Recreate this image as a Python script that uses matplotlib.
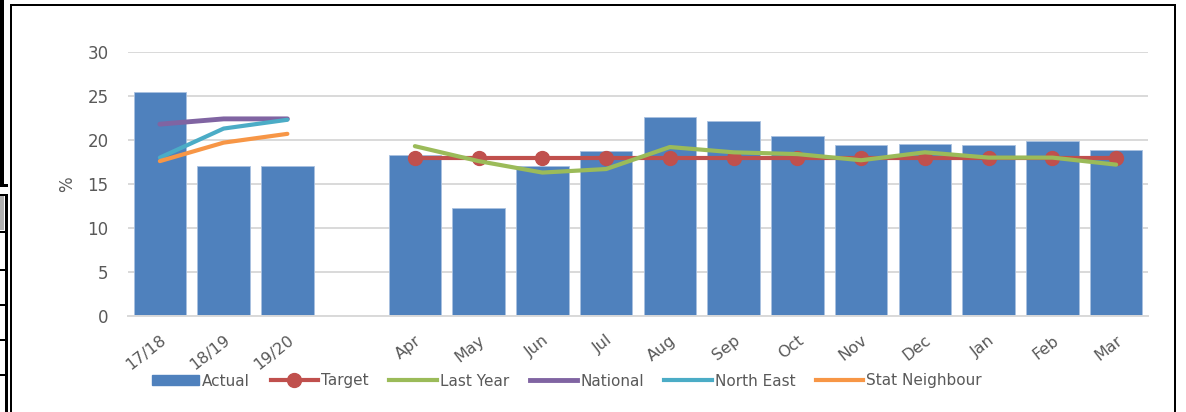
import numpy as np
import matplotlib
matplotlib.use("Agg")
import matplotlib.pyplot as plt
from matplotlib.patches import Rectangle, Patch
from matplotlib.lines import Line2D

# categorias e valores
categories = ["17/18", "18/19", "19/20", "", "Apr", "May", "Jun", "Jul", "Aug",
              "Sep", "Oct", "Nov", "Dec", "Jan", "Feb", "Mar"]
actual = [25.5, 17.0, 17.1, np.nan, 18.3, 12.3, 17.0, 18.8, 22.6, 22.2,
          20.4, 19.4, 19.6, 19.4, 19.9, 18.9]
target = [np.nan, np.nan, np.nan, np.nan, 18, 18, 18, 18, 18, 18, 18, 18, 18, 18, 18, 18]
last_year = [np.nan, np.nan, np.nan, np.nan, 19.3, 17.6, 16.3, 16.7, 19.2, 18.6,
             18.4, 17.7, 18.6, 18.0, 18.0, 17.2]
national = [21.8, 22.4, 22.4] + [np.nan] * 13
north_east = [18.0, 21.3, 22.3] + [np.nan] * 13
stat_neighbour = [17.6, 19.7, 20.7] + [np.nan] * 13

c_bar = "#4F81BD"
c_target = "#C0504D"
c_ly = "#9BBB59"
c_nat = "#8064A2"
c_ne = "#4BACC6"
c_sn = "#F79646"
grey = "#595959"

plt.rcParams["font.family"] = "DejaVu Sans"

fig = plt.figure(figsize=(11.86, 4.12), dpi=100)
ax = fig.add_axes([128 / 1186, 1 - 316 / 412, (1148 - 128) / 1186, (316 - 52) / 412])

x = np.arange(len(categories))
ax.bar(x, actual, width=0.82, color=c_bar, edgecolor="#a9c1e0", linewidth=0.6, zorder=2)
ax.plot(x, target, color=c_target, lw=3, marker="o", markersize=10, zorder=4)
ax.plot(x, last_year, color=c_ly, lw=3, zorder=5, solid_capstyle="round")
ax.plot(x, national, color=c_nat, lw=3.5, zorder=3, solid_capstyle="round")
ax.plot(x, north_east, color=c_ne, lw=3, zorder=4, solid_capstyle="round")
ax.plot(x, stat_neighbour, color=c_sn, lw=3, zorder=4, solid_capstyle="round")

ax.set_xlim(-0.5, len(categories) - 0.5)
ax.set_ylim(0, 30)
ax.set_yticks(range(0, 31, 5))
ax.yaxis.grid(True, color="#d9d9d9", lw=1.4, zorder=0)
ax.set_axisbelow(True)
for s in ["top", "right", "left"]:
    ax.spines[s].set_visible(False)
ax.spines["bottom"].set_color("#d9d9d9")
ax.spines["bottom"].set_linewidth(1.4)
ax.tick_params(axis="both", length=0, labelsize=12, labelcolor=grey)
ax.tick_params(axis="y", pad=14)
ax.set_xticks(x)
ax.set_xticklabels(categories, rotation=38, ha="right", va="top", rotation_mode="anchor",
                   fontsize=11.5)
ax.tick_params(axis="x", pad=12)
ax.set_ylabel("%", fontsize=12, color=grey, labelpad=8)

handles = [
    Patch(facecolor=c_bar, edgecolor=c_bar),
    Line2D([], [], color=c_target, lw=3, marker="o", markersize=10),
    Line2D([], [], color=c_ly, lw=3),
    Line2D([], [], color=c_nat, lw=3.5),
    Line2D([], [], color=c_ne, lw=3),
    Line2D([], [], color=c_sn, lw=3),
]
labels = ["Actual", "Target", "Last Year", "National", "North East", "Stat Neighbour"]
fig.legend(handles, labels, loc="center", bbox_to_anchor=(0.478, 1 - 381 / 412), ncol=6,
           frameon=False, fontsize=11, labelcolor=grey, handlelength=3.1, handleheight=0.6,
           handletextpad=0.2, columnspacing=1.35)

# moldura do gráfico e restos da célula à esquerda
W, H = 1186, 412
def box(x0, y0, w, h, **kw):
    fig.add_artist(Rectangle((x0 / W, 1 - (y0 + h) / H), w / W, h / H,
                             transform=fig.transFigure, **kw))

box(10, 4, 2, 408, color="black", lw=0)
box(10, 4, 1166, 2, color="black", lw=0)
box(1174, 4, 2, 408, color="black", lw=0)
box(0, 0, 4, 185, color="black", lw=0)
box(0, 184, 8, 3, color="black", lw=0)
box(0, 196, 4, 34, color="#b0b0b0", lw=0)
box(5, 194, 3, 218, color="black", lw=0)
for yy in [194, 231, 269, 304, 339, 374]:
    box(0, yy, 8, 2, color="black", lw=0)

fig.savefig("out.png", dpi=100)
